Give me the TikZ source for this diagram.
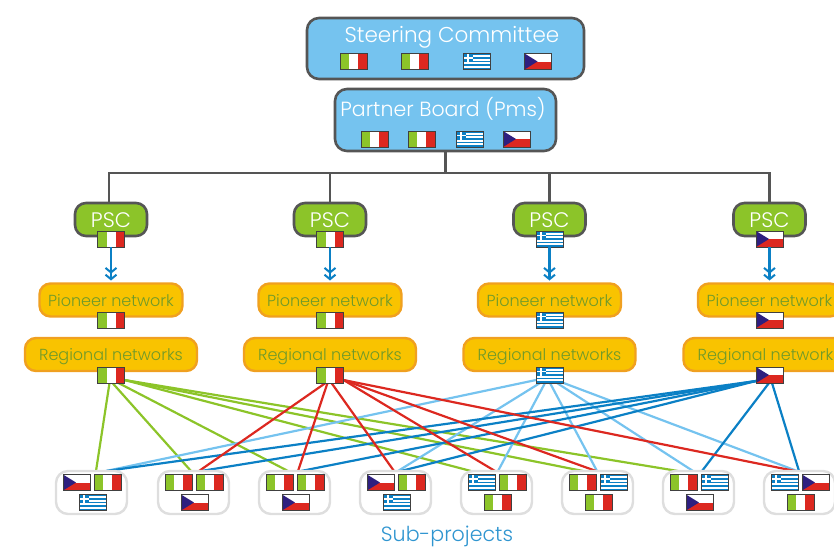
\documentclass[tikz,border=0pt]{standalone}
\usepackage{fontspec}
\setmainfont{Poppins}[UprightFont=* Light]
\usetikzlibrary{arrows.meta,backgrounds}
\definecolor{cgreen}{HTML}{8CC429}
\definecolor{cred}{HTML}{DC2820}
\definecolor{clight}{HTML}{75C3EF}
\definecolor{cdark}{HTML}{0B80C5}
\definecolor{cgrey}{HTML}{555555}
\definecolor{cyel}{HTML}{F9C300}
\definecolor{corange}{HTML}{F0A020}
\definecolor{ctext}{HTML}{6F9A2A}
\definecolor{cnavy}{HTML}{2E1F7F}
\definecolor{csub}{HTML}{2F95D0}
\tikzset{
  x=1pt,y=-1pt,
  every node/.style={inner sep=0pt,outer sep=0pt},
  flagbase/.style={minimum width=27pt,minimum height=16pt,draw=black!75,line width=1pt,fill=white},
  flagit/.style={flagbase,path picture={
      \fill[cgreen] (-13.5,-8) rectangle (-4.5,8);
      \fill[cred] (4.5,-8) rectangle (13.5,8);
    }},
  flaggr/.style={flagbase,path picture={
      \fill[cdark] (-13.5,-8) rectangle (13.5,8);
      \foreach \s in {1,3,5,7}{\fill[white] (-13.5,{\s*16/9-8}) rectangle (13.5,{(\s+1)*16/9-8});}
      \fill[cdark] (-13.5,-8) rectangle (-3.5,0.9);
      \fill[white] (-9.5,-8) rectangle (-7.5,0.9);
      \fill[white] (-13.5,-4.5) rectangle (-3.5,-2.7);
    }},
  flagcz/.style={flagbase,path picture={
      \fill[cred] (-13.5,0) rectangle (13.5,8);
      \fill[cnavy] (-13.5,-8) -- (-0.5,0) -- (-13.5,8) -- cycle;
    }},
  bluebox/.style={draw=cgrey,line width=2.6pt,fill=clight,rounded corners=12pt},
  pscbox/.style={draw=cgrey,line width=2.6pt,fill=cgreen,rounded corners=11pt,minimum width=72pt,minimum height=33pt},
  yelbox/.style={draw=corange,line width=2.4pt,fill=cyel,rounded corners=11pt,minimum height=33pt},
  pionbox/.style={yelbox,minimum width=143pt},
  regbox/.style={yelbox,minimum width=172pt},
  subbox/.style={draw=black!13,line width=2.4pt,fill=white,rounded corners=12pt,minimum width=71pt,minimum height=43pt},
  whitelabel/.style={text=white},
  yellabel/.style={text=ctext,font=\fontsize{16}{18}\selectfont},
  link/.style={line width=2.2pt},
  glink/.style={link,draw=cgreen},
  rlink/.style={link,draw=cred},
  llink/.style={link,draw=clight},
  dlink/.style={link,draw=cdark},
  trunk/.style={draw=cgrey,line width=2.4pt},
  flow/.style={draw=cdark,line width=2.4pt,shorten >=3pt,-{Straight Barb[length=4.5pt,width=11pt,line width=2pt] Straight Barb[length=4.5pt,width=11pt,line width=2pt]}},
}
\begin{document}
\begin{tikzpicture}
\useasboundingbox (0,0) rectangle (834,547);
\clip (0,0) rectangle (834,547);

% top boxes
\node[bluebox,minimum width=277pt,minimum height=61pt] (sc) at (445.5,48.5) {};
\node[whitelabel,font=\fontsize{21.5}{26}\selectfont] (sct) at (452,37) {Steering Committee};
\node[flagit] (sc1) at (353.5,61.5) {};
\node[flagit] (sc2) at (414.5,61.5) {};
\node[flaggr] (sc3) at (476.5,61.5) {};
\node[flagcz] (sc4) at (538,61.5) {};
\node[bluebox,minimum width=221pt,minimum height=62pt] (pb) at (445.5,120) {};
\node[whitelabel,font=\fontsize{20.5}{26}\selectfont] (pbt) at (443,108.5) {Partner Board (Pms)};
\node[flagit] (pb1) at (374.5,139) {};
\node[flagit] (pb2) at (421.5,139) {};
\node[flaggr] (pb3) at (469.5,139) {};
\node[flagcz] (pb4) at (516.5,139) {};

% columns
\foreach \n/\cx/\f in {a/111/flagit,b/330/flagit,c/549.5/flaggr,d/769.5/flagcz}{
  \node[pscbox] (psc\n) at (\cx,219.5) {};
  \node[whitelabel,font=\fontsize{21}{25}\selectfont] (psct\n) at (\cx,220) {PSC};
  \node[\f] (pscf\n) at (\cx,239) {};
  \node[pionbox] (pio\n) at (\cx,300) {};
  \node[yellabel] (piot\n) at (\cx,301) {Pioneer network};
  \node[\f] (piof\n) at (\cx,320) {};
  \node[regbox] (reg\n) at (\cx,354.5) {};
  \node[yellabel] (regt\n) at (\cx,357) {Regional networks};
  \node[\f] (regf\n) at (\cx,375) {};
}

% sub-project boxes
\foreach \n/\lx/\fa/\fb/\fc in {1/55/flagcz/flagit/flaggr,2/157/flagit/flagit/flagcz,3/258/flagit/flagit/flagcz,4/359/flagcz/flagit/flaggr,5/460/flaggr/flagit/flagit,6/561/flagit/flaggr/flagit,7/662/flagit/flaggr/flagcz,8/763/flaggr/flagcz/flagit}{
  \node[subbox] (s\n) at (\lx+36.5,492.5) {};
  \node[\fa] (s\n a) at (\lx+21.5,482.5) {};
  \node[\fb] (s\n b) at (\lx+52.5,482.5) {};
  \node[\fc] (s\n c) at (\lx+37.5,502.5) {};
}
\node[text=csub,font=\fontsize{20.6}{24}\selectfont] (subt) at (447,536.5) {Sub-projects};

\begin{scope}[on background layer]
  % hierarchy
  \coordinate (hub) at (445.5,173);
  \draw[trunk] (pb.south) -- (hub);
  \draw[trunk] ([xshift=-2pt]psca.north) |- (hub);
  \draw[trunk] (pscb.north) |- (hub);
  \draw[trunk] (pscc.north) |- (hub);
  \draw[trunk] (pscd.north) |- (hub);
  % green
  \draw[glink] ([xshift=12pt]regfa.south west) -- ([xshift=40pt]s1.north west);
  \draw[glink] ([xshift=15pt]regfa.south west) -- ([xshift=33pt]s2.north west);
  \draw[glink] ([xshift=21pt]regfa.south west) -- ([xshift=29pt]s3.north west);
  \draw[glink] ([yshift=3pt]regfa.south east) -- ([xshift=10pt]s5.north west);
  \draw[glink] ([yshift=3pt]regfa.south east) -- ([xshift=21pt]s6.north west);
  \draw[glink] ([yshift=3pt]regfa.south east) -- ([xshift=15pt]s7.north west);
  % light blue
  \draw[llink] ([yshift=3pt]regfc.south west) -- ([xshift=50pt]s1.north west);
  \draw[llink] ([xshift=4pt]regfc.south west) -- ([xshift=38pt]s4.north west);
  \draw[llink] ([xshift=9pt]regfc.south west) -- ([xshift=37pt]s5.north west);
  \draw[llink] ([xshift=14pt]regfc.south west) -- ([xshift=35pt]s6.north west);
  \draw[llink] ([xshift=21pt]regfc.south west) -- ([xshift=30pt]s7.north west);
  \draw[llink] ([xshift=25pt,yshift=1pt]regfc.south west) -- ([xshift=33pt]s8.north west);
  % dark blue
  \draw[dlink] ([yshift=2pt]regfd.south west) -- ([xshift=50pt]s1.north west);
  \draw[dlink] ([yshift=2pt]regfd.south west) -- ([xshift=43pt]s2.north west);
  \draw[dlink] ([yshift=2pt]regfd.south west) -- ([xshift=42pt]s3.north west);
  \draw[dlink] ([yshift=2pt]regfd.south west) -- ([xshift=41pt]s4.north west);
  \draw[dlink] ([xshift=13pt]regfd.south west) -- ([xshift=39pt]s7.north west);
  \draw[dlink] ([xshift=16pt]regfd.south west) -- ([xshift=35pt]s8.north west);
  % red
  \draw[rlink] ([xshift=9pt]regfb.south west) -- ([xshift=41pt]s2.north west);
  \draw[rlink] ([xshift=11pt]regfb.south west) -- ([xshift=39pt]s3.north west);
  \draw[rlink] ([xshift=15pt]regfb.south west) -- ([xshift=34pt]s4.north west);
  \draw[rlink] ([yshift=3pt]regfb.south east) -- ([xshift=34pt]s5.north west);
  \draw[rlink] ([yshift=3pt]regfb.south east) -- ([xshift=34pt]s6.north west);
  \draw[rlink] ([yshift=3pt]regfb.south east) -- ([xshift=31pt]s8.north west);
\end{scope}

% arrows
\draw[flow] (pscfa.south) -- (pioa.north);
\draw[flow] (pscfb.south) -- (piob.north);
\draw[flow] (pscfc.south) -- (pioc.north);
\draw[flow] (pscfd.south) -- (piod.north);
\end{tikzpicture}
\end{document}
